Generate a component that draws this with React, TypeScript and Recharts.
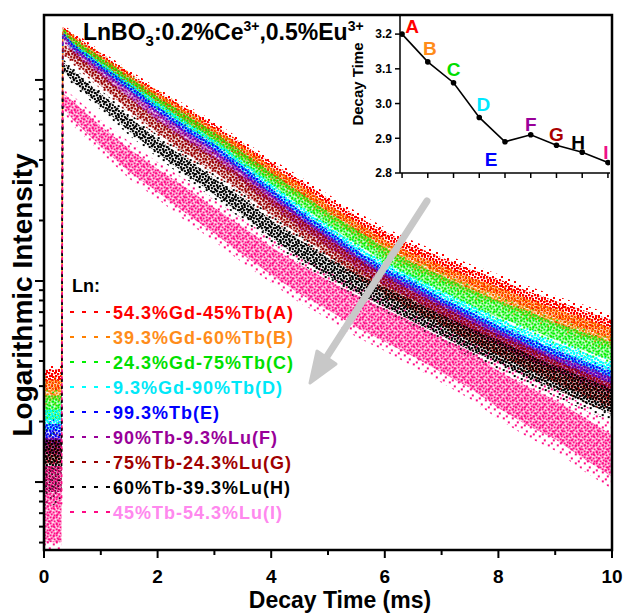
import React from 'react';
import { ComposedChart, LineChart, Line, Area, XAxis, YAxis, LabelList } from 'recharts';

const FONT = '"Liberation Sans", Arial, Helvetica, sans-serif';

// decay time axis (ms); first entry is the excitation peak
const decayTimes = [0.33, 0.5, 1, 1.5, 2, 2.5, 3, 3.5, 4, 4.5, 5, 5.5, 6, 6.5, 7, 7.5, 8, 8.5, 9, 9.5, 10];
// pre-pulse background window (ms)
const preTimes = [0, 0.31];

const seriesKeys = ['A', 'B', 'C', 'D', 'E', 'F', 'G', 'H', 'I'];
const seriesLabels = [
  '54.3%Gd-45%Tb(A)',
  '39.3%Gd-60%Tb(B)',
  '24.3%Gd-75%Tb(C)',
  '9.3%Gd-90%Tb(D)',
  '99.3%Tb(E)',
  '90%Tb-9.3%Lu(F)',
  '75%Tb-24.3%Lu(G)',
  '60%Tb-39.3%Lu(H)',
  '45%Tb-54.3%Lu(I)',
];

// log10(intensity), read along the middle of each scatter band
const decayA = [4.25, 4.21, 4.11, 4.01, 3.92, 3.83, 3.75, 3.65, 3.56, 3.47, 3.38, 3.29, 3.21, 3.14, 3.08, 3.02, 2.97, 2.91, 2.86, 2.81, 2.76];
const decayB = [4.24, 4.2, 4.1, 4.0, 3.91, 3.82, 3.73, 3.64, 3.54, 3.45, 3.35, 3.26, 3.17, 3.1, 3.04, 2.98, 2.93, 2.87, 2.82, 2.77, 2.72];
const decayC = [4.24, 4.19, 4.09, 3.99, 3.89, 3.8, 3.71, 3.61, 3.51, 3.41, 3.31, 3.22, 3.13, 3.05, 2.99, 2.92, 2.86, 2.81, 2.75, 2.7, 2.65];
const decayD = [4.23, 4.17, 4.07, 3.97, 3.87, 3.77, 3.68, 3.57, 3.46, 3.35, 3.25, 3.15, 3.06, 2.99, 2.92, 2.85, 2.78, 2.72, 2.66, 2.61, 2.55];
const decayE = [4.23, 4.17, 4.06, 3.96, 3.85, 3.75, 3.66, 3.55, 3.44, 3.33, 3.23, 3.13, 3.04, 2.97, 2.89, 2.82, 2.75, 2.69, 2.63, 2.57, 2.52];
const decayF = [4.22, 4.15, 4.04, 3.93, 3.82, 3.72, 3.63, 3.52, 3.41, 3.3, 3.2, 3.1, 3.01, 2.94, 2.86, 2.79, 2.72, 2.65, 2.59, 2.54, 2.48];
const decayG = [4.15, 4.12, 4.0, 3.88, 3.77, 3.67, 3.58, 3.48, 3.37, 3.27, 3.17, 3.07, 2.98, 2.9, 2.83, 2.75, 2.68, 2.62, 2.55, 2.49, 2.43];
const decayH = [4.07, 4.02, 3.9, 3.78, 3.67, 3.57, 3.47, 3.37, 3.26, 3.16, 3.07, 2.99, 2.92, 2.85, 2.78, 2.71, 2.65, 2.58, 2.52, 2.46, 2.4];
const decayI = [3.9, 3.85, 3.72, 3.6, 3.5, 3.4, 3.3, 3.2, 3.1, 3.01, 2.93, 2.85, 2.78, 2.71, 2.63, 2.56, 2.46, 2.38, 2.31, 2.22, 2.13];

// background level before the pulse and its scatter (decades)
const backgroundLog = [2.51, 2.46, 2.37, 2.31, 2.24, 2.18, 2.15, 2.08, 1.89];
const backgroundScatter = [0.05, 0.05, 0.06, 0.05, 0.05, 0.04, 0.06, 0.13, 0.19];

// half width of the noise band along the decay, and how noisy each sample is
const scatterByTime = [0.015, 0.02, 0.022, 0.025, 0.025, 0.028, 0.028, 0.03, 0.03, 0.032, 0.032, 0.035, 0.035, 0.037, 0.037, 0.04, 0.04, 0.042, 0.042, 0.045, 0.045];
const scatterScale = [1, 1, 1, 0.8, 0.7, 0.9, 1.3, 1.4, 2.3];

// inset: fitted decay time per sample (ms)
const insetSamples = ['A', 'B', 'C', 'D', 'E', 'F', 'G', 'H', 'I'];
const insetTau = [3.2, 3.12, 3.06, 2.96, 2.89, 2.91, 2.88, 2.86, 2.83];

const dotColors = ['#ff0000', '#ff8000', '#00f000', '#00ffff', '#0000ff', '#990099', '#990000', '#000000', '#ff0a84'];
const legendTextColors = ['#ff0000', '#ff8c1a', '#00e000', '#00e8f8', '#0000ff', '#990099', '#a00000', '#000000', '#ff88ee'];
const insetLetterColors = ['#ff0000', '#ff8c1a', '#00dd00', '#00e8ff', '#0000ff', '#990099', '#aa0000', '#000000', '#ee1188'];

const decays = [decayA, decayB, decayC, decayD, decayE, decayF, decayG, decayH, decayI];

const rows = [
  ...preTimes.map((t, j) => {
    const row: any = { t };
    seriesKeys.forEach((k, i) => {
      const c = backgroundLog[i];
      const s = backgroundScatter[i];
      row[`core${k}`] = [c - s, c + s];
      row[`fringe${k}`] = [c - 1.5 * s, c + 1.5 * s];
      row[`rise${k}`] = j === preTimes.length - 1 ? c : null;
    });
    return row;
  }),
  ...decayTimes.map((t, j) => {
    const row: any = { t };
    seriesKeys.forEach((k, i) => {
      const c = decays[i][j];
      const s = scatterByTime[j] * scatterScale[i];
      row[`core${k}`] = [c - s, c + s];
      row[`fringe${k}`] = [c - 1.6 * s, c + 1.6 * s];
      row[`rise${k}`] = j === 0 ? c : null;
    });
    return row;
  }),
];

const insetRows = insetSamples.map((s, i) => ({ n: i + 1, sample: s, tau: insetTau[i] }));

const Y_DOMAIN: [number, number] = [1.662, 4.323];
const yTicks: number[] = [];
[1, 2, 3].forEach((d) => {
  for (let k = 1; k <= 9; k++) {
    const v = d + Math.log10(k);
    if (v >= Y_DOMAIN[0] && v <= Y_DOMAIN[1]) yTicks.push(v);
  }
});
yTicks.push(4);

const xTicks = [0, 1, 2, 3, 4, 5, 6, 7, 8, 9, 10];

function XTick({ x, y, payload }: any) {
  const major = payload.value % 2 === 0;
  return (
    <g>
      <line x1={x} x2={x} y1={y} y2={y + (major ? 8 : 5)} stroke="#000" strokeWidth={2} />
      {major && (
        <text x={x} y={y + 33} textAnchor="middle" fontSize={19} fontWeight="bold" fontFamily={FONT} fill="#000">
          {payload.value}
        </text>
      )}
    </g>
  );
}

function YTick({ x, y, payload }: any) {
  const major = Math.abs(payload.value - Math.round(payload.value)) < 1e-6;
  return <line x1={x} x2={x - (major ? 9 : 5)} y1={y} y2={y} stroke="#000" strokeWidth={2} />;
}

const EmptyTick = () => <g />;

const letterDx = [10, 2, 0, 4, -14, 0, 0, -4, -2];
const letterDy = [-1, -7, -7, -6, 24, -4, -4, -3, -4];

function LetterLabel({ x, y, index, value }: any) {
  return (
    <text
      x={x + letterDx[index]}
      y={y + letterDy[index]}
      textAnchor="middle"
      fontSize={19}
      fontWeight="bold"
      fontFamily={FONT}
      fill={insetLetterColors[index]}
    >
      {value}
    </text>
  );
}

// hand placed speckle cells so the bands read as scattered points
function SpecklePatterns() {
  return (
    <defs>
      {seriesKeys.map((k, i) => (
        <pattern
          key={`core-${k}`}
          id={`core-${k}`}
          width={6}
          height={6}
          patternUnits="userSpaceOnUse"
          patternTransform={`translate(${(i * 1.7) % 6},${(i * 2.3) % 6})`}
        >
          <rect x={0} y={0} width={2.2} height={2.2} fill={dotColors[i]} />
          <rect x={3} y={1} width={2.2} height={2.2} fill={dotColors[i]} />
          <rect x={1} y={3} width={2.2} height={2.2} fill={dotColors[i]} />
          <rect x={4} y={4} width={2.2} height={2.2} fill={dotColors[i]} />
        </pattern>
      ))}
      {seriesKeys.map((k, i) => (
        <pattern
          key={`fringe-${k}`}
          id={`fringe-${k}`}
          width={9}
          height={9}
          patternUnits="userSpaceOnUse"
          patternTransform={`translate(${(i * 3.1) % 9},${(i * 1.3) % 9})`}
        >
          <rect x={1} y={2} width={2} height={2} fill={dotColors[i]} />
          <rect x={6} y={6} width={2} height={2} fill={dotColors[i]} />
          <rect x={4} y={0} width={2} height={2} fill={dotColors[i]} />
        </pattern>
      ))}
    </defs>
  );
}

export default function App() {
  const arrowTip = [310, 383];
  return (
    <div style={{ position: 'absolute', left: 0, top: 0, width: 626, height: 613, background: '#fff', fontFamily: FONT }}>
      <ComposedChart width={626} height={613} data={rows} margin={{ top: 15, right: 14, bottom: 0, left: 0 }}>
        {SpecklePatterns()}
        <XAxis
          type="number"
          dataKey="t"
          domain={[0, 10]}
          ticks={xTicks}
          interval={0}
          height={63}
          tickSize={0}
          tickMargin={0}
          tickLine={false}
          tick={<XTick />}
          axisLine={{ stroke: '#000', strokeWidth: 2 }}
          allowDataOverflow
        />
        <YAxis
          type="number"
          domain={Y_DOMAIN}
          ticks={yTicks}
          interval={0}
          width={44}
          tickSize={0}
          tickMargin={0}
          tickLine={false}
          tick={<YTick />}
          axisLine={{ stroke: '#000', strokeWidth: 2 }}
          allowDataOverflow
        />
        {seriesKeys.map((k) => (
          <Area
            key={`fringe-${k}`}
            type="linear"
            dataKey={`fringe${k}`}
            stroke="none"
            fill={`url(#fringe-${k})`}
            fillOpacity={1}
            isAnimationActive={false}
            activeDot={false}
          />
        ))}
        {seriesKeys.map((k) => (
          <Area
            key={`core-${k}`}
            type="linear"
            dataKey={`core${k}`}
            stroke="none"
            fill={`url(#core-${k})`}
            fillOpacity={1}
            isAnimationActive={false}
            activeDot={false}
          />
        ))}
        {seriesKeys.map((k, i) => (
          <Line
            key={`rise-${k}`}
            type="linear"
            dataKey={`rise${k}`}
            stroke={dotColors[i]}
            strokeWidth={1.5}
            strokeDasharray="3 4"
            strokeDashoffset={i}
            dot={false}
            activeDot={false}
            connectNulls={false}
            isAnimationActive={false}
          />
        ))}
      </ComposedChart>

      <div style={{ position: 'absolute', left: 350, top: 0 }}>
        <LineChart width={262} height={190} data={insetRows} margin={{ top: 15, right: 2, bottom: 0, left: 0 }}>
          <XAxis
            type="number"
            dataKey="n"
            domain={[0.92, 9.08]}
            ticks={[1, 2, 3, 4, 5, 6, 7, 8, 9]}
            interval={0}
            height={17}
            tickSize={5}
            tick={EmptyTick}
            tickLine={{ stroke: '#000', strokeWidth: 1.5 }}
            axisLine={{ stroke: '#000', strokeWidth: 1.5 }}
            allowDataOverflow
          />
          <YAxis
            type="number"
            domain={[2.8, 3.255]}
            ticks={[2.8, 2.9, 3.0, 3.1, 3.2]}
            interval={0}
            width={50}
            tickSize={5}
            tickMargin={3}
            tickFormatter={(v: number) => v.toFixed(1)}
            tick={{ fontSize: 12, fontWeight: 'bold', fill: '#000', fontFamily: FONT }}
            tickLine={{ stroke: '#000', strokeWidth: 1.5 }}
            axisLine={{ stroke: '#000', strokeWidth: 1.5 }}
            allowDataOverflow
          />
          <Line
            type="linear"
            dataKey="tau"
            stroke="#000"
            strokeWidth={1.6}
            dot={{ r: 2, fill: '#000', stroke: '#000' }}
            activeDot={false}
            isAnimationActive={false}
          >
            <LabelList dataKey="sample" content={LetterLabel} />
          </Line>
        </LineChart>
      </div>

      <svg width={626} height={613} style={{ position: 'absolute', left: 0, top: 0, pointerEvents: 'none' }}>
        <rect x={44} y={15} width={568} height={535} fill="none" stroke="#000" strokeWidth={2.5} />

        <text x={83} y={40} fontSize={23} fontWeight="bold" fontFamily={FONT} fill="#000">
          LnBO
          <tspan fontSize={15} dy={6}>3</tspan>
          <tspan dy={-6}>:0.2%Ce</tspan>
          <tspan fontSize={14} dy={-9}>3+</tspan>
          <tspan dy={9}>,0.5%Eu</tspan>
          <tspan fontSize={14} dy={-9}>3+</tspan>
        </text>

        <text
          x={363}
          y={84}
          transform="rotate(-90 363 84)"
          textAnchor="middle"
          fontSize={15}
          fontWeight="bold"
          fontFamily={FONT}
          fill="#000"
        >
          Decay Time
        </text>

        <text x={72} y={292} fontSize={18} fontWeight="bold" fontFamily={FONT} fill="#000">
          Ln:
        </text>
        {seriesLabels.map((label, i) => {
          const cy = 312 + i * 25;
          return (
            <g key={label}>
              <line x1={70} x2={114} y1={cy} y2={cy} stroke={dotColors[i]} strokeWidth={2} strokeDasharray="4 8" />
              <text x={113} y={cy + 7} fontSize={18} fontWeight="bold" letterSpacing={1} fontFamily={FONT} fill={legendTextColors[i]}>
                {label}
              </text>
            </g>
          );
        })}

        <line x1={427} y1={201} x2={326} y2={358} stroke="#c8c8c8" strokeWidth={7} strokeLinecap="round" />
        <polygon
          points={`${arrowTip[0]},${arrowTip[1]} 336,364 317,351`}
          fill="#c8c8c8"
          stroke="#c8c8c8"
          strokeWidth={3}
          strokeLinejoin="round"
        />

        <text
          x={22}
          y={295}
          transform="rotate(-90 22 295)"
          textAnchor="middle"
          dominantBaseline="central"
          fontSize={28}
          fontWeight="bold"
          fontFamily={FONT}
          fill="#000"
        >
          Logarithmic Intensity
        </text>
        <text x={340} y={608} textAnchor="middle" fontSize={23} fontWeight="bold" fontFamily={FONT} fill="#000">
          Decay Time (ms)
        </text>
      </svg>
    </div>
  );
}
